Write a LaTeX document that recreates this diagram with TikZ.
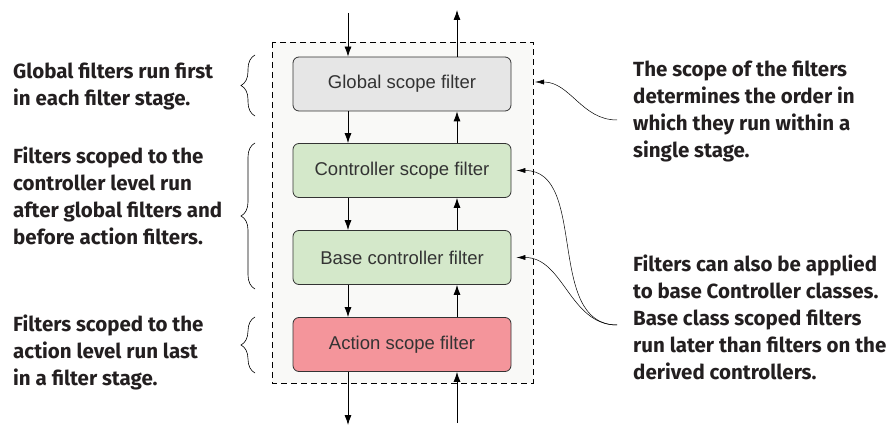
\documentclass[tikz,border=0pt]{standalone}
\usepackage{fontspec}
\setmainfont{Fira Sans}
\setsansfont{Liberation Sans}
\usetikzlibrary{arrows.meta,decorations.pathreplacing}
\definecolor{globalfill}{HTML}{E6E6E6}
\definecolor{ctrlfill}{HTML}{D4E8CA}
\definecolor{actionfill}{HTML}{F4959B}
\definecolor{framefill}{HTML}{F9F9F7}
\definecolor{inktext}{HTML}{231F20}

\begin{document}
\begin{tikzpicture}[x=1pt,y=-1pt]
\tikzset{filterbox/.style={draw=black!80, rounded corners=6pt, line width=0.8pt,
    minimum width=218pt, minimum height=54pt, text=black!80,
    font=\sffamily\fontsize{18.5}{20}\selectfont},
  note/.style={anchor=west, align=left, inner sep=0pt, text=inktext,
    font=\bfseries\fontsize{20.5}{27}\selectfont},
  flow/.style={-{Latex[length=10pt,width=7pt]}, line width=0.8pt},
  hint/.style={-{Latex[length=9pt,width=5pt]}, line width=0.5pt},
  stagebrace/.style={decorate, decoration={brace, amplitude=14pt}, line width=0.6pt}}
\useasboundingbox (0,0) rectangle (894,427);
% the stage frame
\draw[dash pattern=on 6pt off 4pt, line width=0.6pt, fill=framefill] (272,42) rectangle (533,383);
% the filters
\node[filterbox, fill=globalfill] (global) at (402,84) {Global scope filter};
\node[filterbox, fill=ctrlfill] (ctrl) at (402,170.5) {Controller scope filter};
\node[filterbox, fill=ctrlfill] (base) at (402,257.5) {Base controller filter};
\node[filterbox, fill=actionfill] (action) at (402,344.5) {Action scope filter};
% flow in and out of the stage
\coordinate (in) at (348,13);
\coordinate (out) at (457,10);
\coordinate (down) at (348,425);
\coordinate (up) at (457,423);
\draw[flow] (in) -- (in |- global.north);
\draw[flow] (out |- global.north) -- (out);
\draw[flow] (down |- action.south) -- (down);
\draw[flow] (up) -- (up |- action.south);
% flow between the filters
\foreach \a/\b in {global/ctrl, ctrl/base, base/action} {
  \draw[flow] (in |- \a.south) -- (in |- \b.north);
  \draw[flow] (out |- \b.north) -- (out |- \a.south);
}
% the notes on the left
\node[note] (globalnote) at (13,86) {Global filters run first\\in each filter stage.};
\node[note] (ctrlnote) at (13,196) {Filters scoped to the\\controller level run\\after global filters and\\before action filters.};
\node[note] (actionnote) at (13,352) {Filters scoped to the\\action level run last\\in a filter stage.};
\coordinate (b1) at (255,116); \coordinate (t1) at (255,55);
\coordinate (b2) at (255,289); \coordinate (t2) at (255,143);
\coordinate (b3) at (255,373); \coordinate (t3) at (255,317);
\foreach \i in {1,2,3} {
  \draw[stagebrace] (b\i) -- (t\i);
}
% the notes on the right
\node[note] (scopenote) at (633,111) {The scope of the filters\\determines the order in\\which they run within a\\single stage.};
\node[note] (basenote) at (633,317) {Filters can also be applied\\to base Controller classes.\\Base class scoped filters\\run later than filters on the\\derived controllers.};
\coordinate (s1) at (617,120);
\coordinate (s2) at (617,325);
\coordinate (framepoint) at (535,82);
\draw[hint] (s1) to[out=180,in=0] (framepoint);
\draw[hint] (s2) to[out=180,in=0] ([xshift=5pt]ctrl.east);
\draw[hint] (s2) to[out=180,in=0] ([xshift=5pt]base.east);
\end{tikzpicture}
\end{document}
